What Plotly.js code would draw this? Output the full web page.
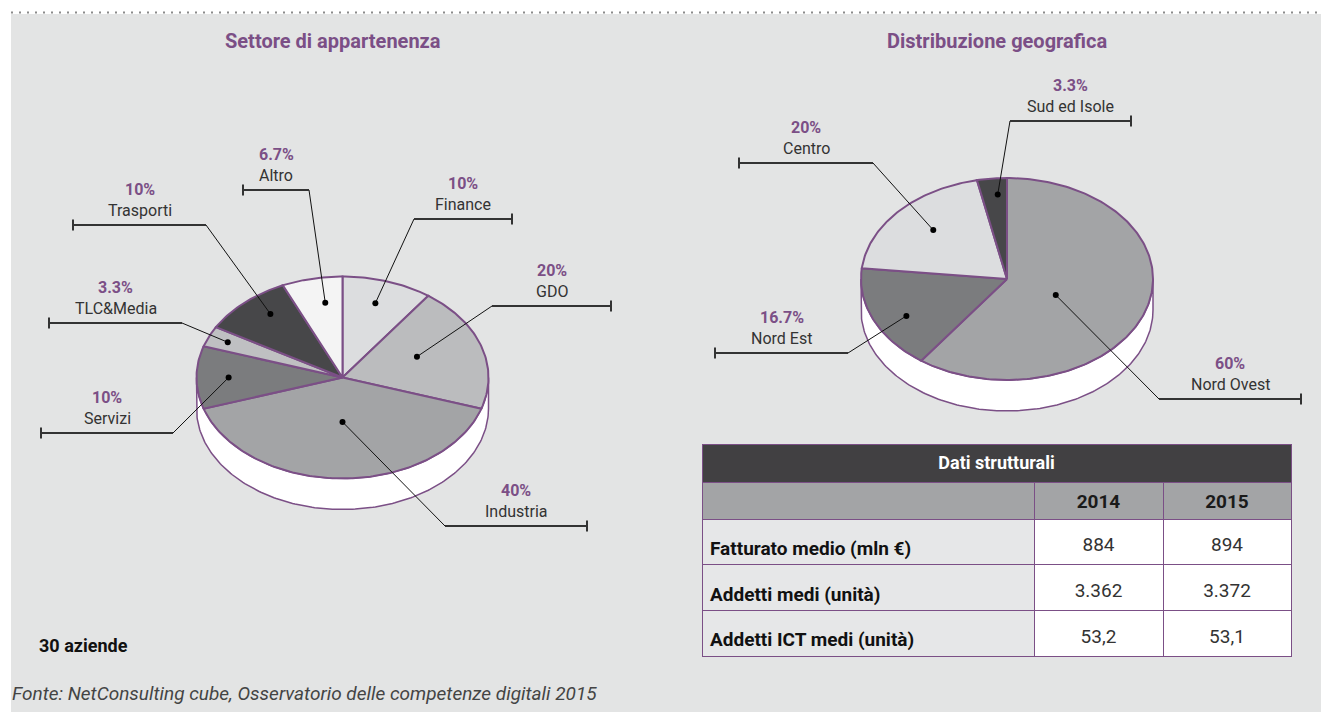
<!DOCTYPE html>
<html>
<head>
<meta charset="utf-8">
<script src="https://cdn.plot.ly/plotly-3.0.1.min.js"></script>
<style>html,body{margin:0;padding:0;background:#fff;}#chart{width:1321px;height:712px;}</style>
</head>
<body>
<div id="chart"></div>
<script>
// ---------- DATA ----------
const sectorLabels = ['Finance', 'GDO', 'Industria', 'Servizi', 'TLC&Media', 'Trasporti', 'Altro'];
const sectorValues = [10, 20, 40, 10, 3.3, 10, 6.7];
const sectorPctText = ['10%', '20%', '40%', '10%', '3.3%', '10%', '6.7%'];

const geoLabels = ['Nord Ovest', 'Nord Est', 'Centro', 'Sud ed Isole'];
const geoValues = [60, 16.7, 20, 3.3];
const geoPctText = ['60%', '16.7%', '20%', '3.3%'];

const tableTitle = 'Dati strutturali';
const tableYears = ['2014', '2015'];
const tableRowLabels = ['Fatturato medio (mln €)', 'Addetti medi (unità)', 'Addetti ICT medi (unità)'];
const values2014 = ['884', '3.362', '53,2'];
const values2015 = ['894', '3.372', '53,1'];

const chartTitles = ['Settore di appartenenza', 'Distribuzione geografica'];
const sampleNote = '30 aziende';
const sourceNote = 'Fonte: NetConsulting cube, Osservatorio delle competenze digitali 2015';

// ---------- STYLE / LAYOUT ----------
const W = 1321, H = 712;
const PURPLE = '#7b4f86';
const FONT = 'Roboto, "Open Sans", sans-serif';
const sectorColors = ['#dcdddf', '#bbbcbe', '#a3a4a6', '#7b7c7e', '#bfc0c2', '#474749', '#f4f4f4'];
const geoColors = ['#a3a4a6', '#7b7c7e', '#dcdddf', '#474749'];

const pieRX = 146, pieRY = 101, pieDepth = 31;
const sectorPie = {cx: 342.5, cy: 377.5};
const geoPie = {cx: 1007, cy: 279};

// dot placement inside each slice: radius fraction and angular nudge (deg)
const sectorDotR = [0.77, 0.55, 0.44, 0.78, 0.86, 0.80, 0.75];
const sectorDotShift = [-1, -4, 0, 0, 0, 4, 3];
const geoDotR = [0.37, 0.78, 0.70, 0.84];
const geoDotShift = [7.5, -4, 1.7, 1.6];

// leader geometry: elbow x, line y, far end x
const sectorLeaders = [[414, 219, 512], [492, 306, 611], [445, 526, 587], [173, 433, 41], [182, 323, 49], [206, 225, 73], [309, 190, 243]];
const geoLeaders = [[1159, 399, 1301], [848, 353, 715], [873, 163, 739], [1010, 121, 1131]];

function pt(p, deg, r) {
  const a = deg * Math.PI / 180;
  return [p.cx + r * pieRX * Math.sin(a), p.cy - r * pieRY * Math.cos(a)];
}

const traces = [];
const annotations = [];

function buildPie(p, values, colors, labels, pcts, dotR, dotShift, leaders) {
  const total = values.reduce((a, b) => a + b, 0);
  // side (depth)
  const sx = [], sy = [];
  for (let d = 90; d <= 270; d += 1) { const q = pt(p, d, 1); sx.push(q[0]); sy.push(q[1]); }
  for (let d = 270; d >= 90; d -= 1) { const q = pt(p, d, 1); sx.push(q[0]); sy.push(q[1] + pieDepth); }
  sx.push(sx[0]); sy.push(sy[0]);
  traces.push({type: 'scatter', mode: 'lines', x: sx, y: sy, fill: 'toself', fillcolor: '#ffffff',
    line: {color: PURPLE, width: 1.5}, hoverinfo: 'skip', showlegend: false});
  // slices
  let start = 0;
  const mids = [];
  values.forEach((v, i) => {
    const a0 = start / total * 360, a1 = (start + v) / total * 360;
    const xs = [p.cx], ys = [p.cy];
    const n = Math.max(4, Math.ceil(a1 - a0));
    for (let k = 0; k <= n; k++) { const q = pt(p, a0 + (a1 - a0) * k / n, 1); xs.push(q[0]); ys.push(q[1]); }
    xs.push(p.cx); ys.push(p.cy);
    traces.push({type: 'scatter', mode: 'lines', x: xs, y: ys, fill: 'toself', fillcolor: colors[i],
      line: {color: PURPLE, width: 2, join: 'miter'}, hoverinfo: 'skip', showlegend: false, name: labels[i]});
    mids.push((a0 + a1) / 2);
    start += v;
  });
  // leaders, dots, labels
  const dx = [], dy = [];
  values.forEach((v, i) => {
    const d = pt(p, mids[i] + dotShift[i], dotR[i]);
    const [ex, ly, fx] = leaders[i];
    traces.push({type: 'scatter', mode: 'lines', x: [d[0], ex], y: [d[1], ly],
      line: {color: '#111', width: 1}, hoverinfo: 'skip', showlegend: false});
    traces.push({type: 'scatter', mode: 'lines', x: [ex, fx], y: [ly, ly],
      line: {color: '#333', width: 2}, hoverinfo: 'skip', showlegend: false});
    traces.push({type: 'scatter', mode: 'markers', x: [fx], y: [ly],
      marker: {symbol: 'line-ns', size: 8, line: {color: '#333', width: 2}}, hoverinfo: 'skip', showlegend: false});
    dx.push(d[0]); dy.push(d[1]);
    const cxl = (ex + fx) / 2;
    annotations.push({x: cxl, y: ly - 36, xref: 'x', yref: 'y', text: '<b>' + pcts[i] + '</b>', showarrow: false,
      xanchor: 'center', yanchor: 'middle', font: {family: FONT, size: 16, color: PURPLE}});
    annotations.push({x: cxl, y: ly - 15, xref: 'x', yref: 'y', text: labels[i], showarrow: false,
      xanchor: 'center', yanchor: 'middle', font: {family: FONT, size: 16, color: '#333'}});
  });
  traces.push({type: 'scatter', mode: 'markers', x: dx, y: dy, marker: {color: '#000', size: 6},
    hoverinfo: 'skip', showlegend: false});
}

buildPie(sectorPie, sectorValues, sectorColors, sectorLabels, sectorPctText, sectorDotR, sectorDotShift, sectorLeaders);
buildPie(geoPie, geoValues, geoColors, geoLabels, geoPctText, geoDotR, geoDotShift, geoLeaders);

// ---------- TABLE ----------
const tX0 = 702 / W, tX1 = 1291 / W;
const colW = [332, 129, 128];
const NONE = 'rgba(0,0,0,0)';
// title bar
traces.push({
  type: 'table',
  domain: {x: [tX0, tX1], y: [1 - 482 / H, 1 - 444 / H]},
  columnwidth: [1],
  header: {values: ['<b>' + tableTitle + '</b>'], height: 38, fill: {color: '#414042'},
    line: {color: PURPLE, width: 1}, align: 'center', font: {family: FONT, size: 18, color: '#ffffff'}},
  cells: {values: [[]], height: 0, line: {color: PURPLE, width: 1}}
});
// grid: year header row + cell fills and borders
traces.push({
  type: 'table',
  domain: {x: [tX0, tX1], y: [1 - 665 / H, 1 - 482 / H]},
  columnwidth: colW,
  header: {values: ['', '', ''], height: 37, fill: {color: '#a3a4a6'},
    line: {color: PURPLE, width: 1}, font: {family: FONT, size: 12}},
  cells: {values: [tableRowLabels.map(() => ''), values2014.map(() => ''), values2015.map(() => '')],
    height: 45.7,
    fill: {color: [tableRowLabels.map(() => '#e6e7e8'), values2014.map(() => '#ffffff'), values2015.map(() => '#ffffff')]},
    line: {color: PURPLE, width: 1}, font: {family: FONT, size: 12}}
});
// texts overlaid on the grid (taller header row pushes body text to the cell middles)
traces.push({
  type: 'table',
  domain: {x: [tX0, tX1], y: [1 - 700 / H, 1 - 482 / H]},
  columnwidth: colW,
  header: {values: [''].concat(tableYears.map(y => '<b>' + y + '</b>')), height: 47, fill: {color: NONE},
    line: {color: NONE, width: 0}, align: 'center', font: {family: FONT, size: 19, color: '#1a1a1a'}},
  cells: {values: [tableRowLabels.map(s => '<b>' + s + '</b>'), values2014, values2015], height: 45.7,
    fill: {color: NONE}, line: {color: NONE, width: 0}, align: ['left', 'center', 'center'],
    font: {family: FONT, size: 19, color: ['#111', '#333', '#333']}}
});

// ---------- TEXT ----------
annotations.push({x: 332.5, y: 41, xref: 'x', yref: 'y', text: '<b>' + chartTitles[0] + '</b>', showarrow: false,
  xanchor: 'center', yanchor: 'middle', font: {family: FONT, size: 20, color: PURPLE}});
annotations.push({x: 996.6, y: 41, xref: 'x', yref: 'y', text: '<b>' + chartTitles[1] + '</b>', showarrow: false,
  xanchor: 'center', yanchor: 'middle', font: {family: FONT, size: 20, color: PURPLE}});
annotations.push({x: 37, y: 645, xref: 'x', yref: 'y', text: '<b>' + sampleNote + '</b>', showarrow: false,
  xanchor: 'left', yanchor: 'middle', font: {family: FONT, size: 18, color: '#111'}});
annotations.push({x: 10, y: 693, xref: 'x', yref: 'y', text: '<i>' + sourceNote + '</i>', showarrow: false,
  xanchor: 'left', yanchor: 'middle', font: {family: FONT, size: 19, color: '#444'}});

const layout = {
  width: W, height: H,
  margin: {l: 0, r: 0, t: 0, b: 0, pad: 0},
  paper_bgcolor: '#ffffff', plot_bgcolor: 'rgba(0,0,0,0)',
  showlegend: false, hovermode: false,
  xaxis: {range: [0, W], visible: false, fixedrange: true},
  yaxis: {range: [H, 0], visible: false, fixedrange: true},
  shapes: [
    {type: 'rect', xref: 'x', yref: 'y', x0: 11, x1: W, y0: 14, y1: H, fillcolor: '#e3e4e4', line: {width: 0}, layer: 'below'},
    {type: 'line', xref: 'x', yref: 'y', x0: 11, x1: W, y0: 12.5, y1: 12.5, line: {color: '#8a8a8a', width: 2, dash: '2px,6px'}, layer: 'below'}
  ],
  annotations: annotations
};

Plotly.newPlot('chart', traces, layout, {displayModeBar: false, staticPlot: true});
</script>
</body>
</html>
